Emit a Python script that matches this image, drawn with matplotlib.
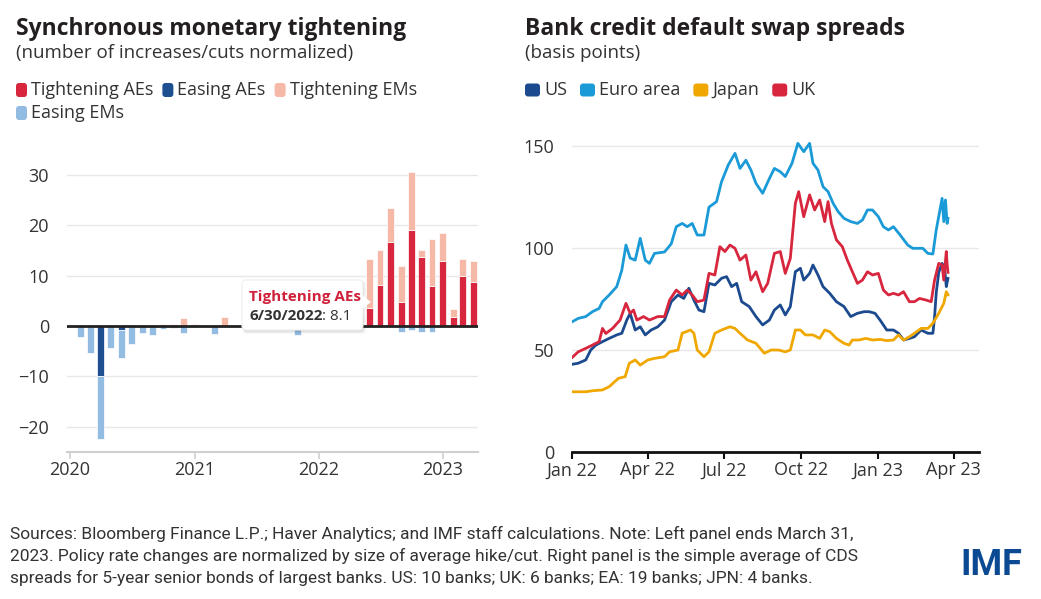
import matplotlib
matplotlib.use('Agg')
import matplotlib.pyplot as plt
from matplotlib.patches import FancyBboxPatch, Polygon
from matplotlib.transforms import IdentityTransform
import pandas as pd

plt.rcParams['font.family'] = ['Open Sans', 'DejaVu Sans']

W, H = 1041, 599

# ---- left panel data: monthly, Jan 2020 .. Mar 2023 (39 months) ----
months = pd.date_range('2020-01-31', periods=39, freq='ME')
tight_ae = [0, 0, 0, 0, 0, 0, 0, 0, 0, 0, 0, 0,
            0, 0, 0, 0, 0, 0, 0, 0, 0.5, 0.5, 0.5, 1.0,
            0.5, 2.0, 3.0, 2.0, 3.5, 8.1, 16.7, 4.8, 19.0, 13.7, 8.0, 12.9,
            1.7, 9.9, 8.7]
tight_em = [0, 0, 0, 0, 0, 0, 0, 0, 0.4, 0.3, 1.6, 0.3,
            0, 0, 1.7, 0, 1.5, 3.0, 4.0, 3.5, 5.0, 4.0, 5.0, 5.5,
            3.0, 4.0, 5.0, 5.5, 9.9, 7.1, 6.8, 7.1, 11.7, 1.5, 9.2, 5.6,
            1.6, 3.5, 4.2]
ease_ae = [0, 0, -9.9, 0, -0.8, 0, 0, 0, 0, 0, 0, 0,
           0, 0, 0, 0, 0, 0, 0, 0, 0, 0, 0, 0,
           0, 0, 0, 0, 0, 0, 0, 0, 0, 0, 0, 0,
           0, 0, 0]
ease_em = [-2.2, -5.4, -12.6, -4.4, -5.6, -3.6, -1.4, -1.8, -0.7, -0.4, -1.4, 0,
           0, -1.6, 0, 0, -0.3, -0.3, -0.2, -0.3, -0.3, -1.8, -0.2, -0.2,
           -0.3, -0.2, 0, 0, 0, 0, 0, -1.3, -0.8, -1.3, -1.3, 0,
           0, -0.3, 0]

# ---- right panel data: days since 1 Jan 2022, basis points ----
us_days = [0, 7, 16, 22, 28, 36, 44, 53, 59, 65, 69, 75, 81, 87, 94, 102, 110, 118, 126, 133,
           139, 145, 151, 157, 163, 170, 178, 184, 190, 196, 202, 211, 219, 227, 235, 241, 248,
           254, 260, 266, 272, 276, 283, 287, 293, 299, 307, 315, 324, 332, 340, 348, 354, 361,
           367, 375, 383, 389, 395, 402, 408, 416, 424, 430, 432, 434, 437, 441, 444, 446, 448]
us_vals = [42.9, 43.4, 45.0, 49.9, 52.3, 54.0, 55.6, 57.3, 58.1, 64.6, 67.9, 59.7, 61.3, 57.3,
           59.7, 61.3, 64.6, 73.6, 76.9, 75.2, 80.2, 74.4, 69.5, 68.7, 82.6, 81.8, 85.1, 85.9,
           81.0, 82.6, 73.6, 71.2, 66.3, 62.2, 64.6, 69.5, 72.0, 67.1, 71.2, 88.3, 90.0, 84.2,
           87.5, 91.6, 86.7, 81.0, 77.7, 73.6, 71.2, 66.3, 67.9, 68.7, 68.7, 67.9, 64.6, 59.7,
           59.7, 58.1, 54.8, 55.6, 56.4, 59.7, 58.1, 58.1, 66.0, 78.0, 88.0, 92.4, 90.0, 81.0, 85.0]

ea_days = [0, 7, 16, 24, 32, 36, 44, 53, 59, 64, 69, 75, 81, 87, 92, 98, 110, 118, 124, 131,
           137, 143, 149, 157, 163, 172, 178, 186, 194, 200, 207, 213, 219, 227, 235, 241, 248,
           254, 262, 269, 276, 283, 287, 293, 299, 305, 311, 317, 324, 332, 340, 346, 352, 358,
           365, 371, 377, 383, 391, 400, 406, 412, 418, 424, 430, 434, 441, 443, 445, 447, 448]
ea_vals = [63.8, 65.4, 66.3, 68.7, 70.3, 73.6, 76.9, 81.0, 89.0, 101.4, 95.0, 94.0, 104.7, 94.0,
           92.4, 97.3, 98.0, 102.0, 110.4, 112.0, 110.4, 112.0, 106.3, 106.3, 120.0, 122.7, 132.5,
           140.7, 146.4, 139.0, 143.0, 138.2, 131.7, 126.8, 134.0, 139.0, 137.4, 135.0, 141.5,
           151.3, 147.2, 151.3, 141.5, 138.2, 130.0, 127.6, 121.9, 117.8, 114.5, 112.9, 112.0,
           113.7, 118.6, 118.6, 115.3, 110.4, 108.8, 110.4, 106.3, 101.4, 99.8, 99.8, 99.8, 97.3,
           97.0, 108.8, 124.3, 112.9, 123.5, 112.0, 114.5]

jp_days = [0, 16, 24, 36, 44, 55, 63, 68, 75, 81, 90, 98, 110, 116, 126, 131, 141, 145, 149, 157,
           163, 170, 178, 188, 194, 200, 209, 219, 229, 237, 246, 254, 260, 266, 272, 278, 287,
           295, 301, 307, 315, 324, 330, 334, 342, 350, 358, 367, 375, 383, 389, 395, 402, 408,
           416, 424, 430, 437, 443, 446, 448]
jp_vals = [29.4, 29.4, 29.9, 30.3, 31.9, 36.0, 36.8, 43.4, 45.0, 42.5, 45.0, 45.8, 46.6, 49.0,
           49.9, 58.1, 59.7, 58.1, 49.9, 46.6, 49.0, 58.1, 59.7, 61.3, 60.5, 58.1, 54.8, 53.2,
           48.3, 49.9, 49.9, 49.0, 49.9, 59.7, 59.7, 57.3, 57.3, 55.6, 59.7, 58.9, 55.6, 53.2,
           52.3, 54.8, 54.8, 55.6, 54.8, 55.1, 54.5, 54.8, 57.3, 54.8, 56.4, 58.1, 60.5, 60.5,
           63.0, 67.9, 72.8, 78.5, 77.0]

uk_days = [0, 7, 16, 24, 32, 36, 40, 48, 57, 64, 69, 73, 77, 85, 92, 102, 110, 116, 124, 131,
           137, 143, 149, 157, 163, 170, 176, 182, 188, 194, 200, 207, 213, 219, 227, 233, 241,
           248, 254, 260, 266, 270, 276, 283, 289, 295, 301, 305, 309, 315, 322, 328, 334, 340,
           346, 352, 358, 365, 371, 377, 383, 389, 395, 402, 408, 414, 422, 428, 432, 437, 441,
           443, 446, 447, 448]
uk_vals = [46.3, 49.0, 50.7, 52.3, 54.0, 60.5, 58.0, 60.5, 64.6, 72.8, 67.9, 69.5, 64.6, 66.3,
           64.6, 66.3, 66.3, 74.4, 79.3, 76.9, 79.3, 76.9, 73.6, 74.4, 87.5, 86.7, 100.6, 98.2,
           101.4, 99.8, 94.0, 96.5, 84.2, 88.3, 78.5, 82.6, 97.3, 98.2, 87.5, 94.9, 121.9, 127.6,
           115.3, 126.0, 118.6, 123.5, 112.9, 122.7, 112.0, 103.9, 100.6, 94.0, 88.3, 82.6, 84.2,
           88.3, 86.7, 87.5, 79.3, 76.9, 77.7, 76.9, 78.5, 73.6, 73.6, 75.2, 74.4, 73.6, 84.2,
           92.4, 91.6, 84.2, 98.2, 92.0, 88.0]

C_TAE, C_EAE, C_TEM, C_EEM = '#d7263d', '#1d4f91', '#f6b9a7', '#93bce3'
C_US, C_EA, C_JP, C_UK = '#1b4a8f', '#1a9ad6', '#f0a800', '#d7263d'
TXT = '#333333'
DARK = '#231f20'
NARROW = ['Roboto', 'DejaVu Sans']

fig = plt.figure(figsize=(W / 100, H / 100), dpi=100)
PX = IdentityTransform()


def ftext(x, y, s, **kw):
    # place text by pixel position measured from the top-left corner
    return fig.text(x / W, 1 - y / H, s, **kw)


def legend_row(x, y, items, size=13, mw=11, mh=14, gap=9):
    r = fig.canvas.get_renderer()
    for label, col in items:
        fig.patches.append(FancyBboxPatch((x, H - y - mh / 2), mw, mh, boxstyle='round,pad=0,rounding_size=3',
                                          transform=PX, fc=col, ec='none'))
        t = ftext(x + mw + 4, y, label, fontsize=size, color=TXT, va='center')
        x = t.get_window_extent(r).x1 + gap


# ---- titles ----
ftext(16, 35, 'Synchronous monetary tightening', fontsize=16.5, fontweight='bold', color=DARK)
ftext(16, 58, '(number of increases/cuts normalized)', fontsize=13.5, color=TXT)
ftext(525, 35, 'Bank credit default swap spreads', fontsize=16.5, fontweight='bold', color=DARK)
ftext(525, 58, '(basis points)', fontsize=13.5, color=TXT)

legend_row(16, 90, [('Tightening AEs', C_TAE), ('Easing AEs', C_EAE), ('Tightening EMs', C_TEM)])
legend_row(16, 113, [('Easing EMs', C_EEM)])
legend_row(525, 90, [('US', C_US), ('Euro area', C_EA), ('Japan', C_JP), ('UK', C_UK)],
           mw=15, mh=13, gap=13)

# ---- left panel ----
ax1 = fig.add_axes([67 / W, 1 - 451.7 / H, 411 / W, (451.7 - 165) / H])
bw = 20
ax1.bar(months, tight_ae, width=bw, color=C_TAE, edgecolor='white', linewidth=0.5, zorder=2)
ax1.bar(months, tight_em, width=bw, bottom=tight_ae, color=C_TEM, edgecolor='white', linewidth=0.5, zorder=2)
ax1.bar(months, ease_ae, width=bw, color=C_EAE, edgecolor='white', linewidth=0.5, zorder=2)
ax1.bar(months, ease_em, width=bw, bottom=ease_ae, color=C_EEM, edgecolor='white', linewidth=0.5, zorder=2)
ax1.axhline(0, color='#222222', lw=2, zorder=3)
ax1.set_xlim(pd.Timestamp('2019-12-23'), pd.Timestamp('2023-04-14'))
ax1.set_ylim(-25, 32)
ax1.set_yticks([-20, -10, 0, 10, 20, 30])
ax1.set_yticklabels(['\u221220', '\u221210', '0', '10', '20', '30'])
yrs = pd.to_datetime(['2020-01-01', '2021-01-01', '2022-01-01', '2023-01-01'])
ax1.set_xticks(yrs)
ax1.set_xticklabels(['2020', '2021', '2022', '2023'])
ax1.yaxis.grid(True, color='#e8e8e8', lw=1)
ax1.set_axisbelow(True)
for s in ['top', 'right', 'left']:
    ax1.spines[s].set_visible(False)
ax1.spines['bottom'].set_color('#cfcfcf')
ax1.spines['bottom'].set_linewidth(1.5)
ax1.tick_params(axis='x', colors='#cfcfcf', length=5, width=1.2, pad=2, labelsize=13, labelcolor=TXT)
ax1.tick_params(axis='y', length=0, pad=13, labelsize=13, labelcolor=TXT)

# tooltip drawn over the bars
for i, a in enumerate([0.05, 0.04, 0.03]):
    fig.patches.append(FancyBboxPatch((242 + 1, H - 331 - 1 - i), 121 + i, 51 + i,
                                      boxstyle='round,pad=0,rounding_size=4', transform=PX,
                                      fc='black', ec='none', alpha=a, zorder=5))
fig.patches.append(FancyBboxPatch((242, H - 330), 121, 50, boxstyle='round,pad=0,rounding_size=4',
                                  transform=PX, fc='white', ec='#eeeeee', lw=0.8, zorder=6))
fig.patches.append(Polygon([(362, H - 295), (371, H - 302), (362, H - 309)], closed=True,
                           transform=PX, fc='white', ec='none', zorder=6))
ftext(249, 301, 'Tightening AEs', fontsize=11, fontweight='bold', color='#d0213a', zorder=7)
r = fig.canvas.get_renderer()
t = ftext(249, 320, '6/30/2022', fontsize=11, fontweight='bold', color=TXT, zorder=7)
ftext(t.get_window_extent(r).x1, 320, ': 8.1', fontsize=11, color=TXT, zorder=7)

# ---- right panel ----
ax2 = fig.add_axes([572.3 / W, 1 - 451.7 / H, 406.7 / W, (451.7 - 135.8) / H])
base = pd.Timestamp('2022-01-01')
for days, vals, col in [(us_days, us_vals, C_US), (ea_days, ea_vals, C_EA),
                        (jp_days, jp_vals, C_JP), (uk_days, uk_vals, C_UK)]:
    ax2.plot(base + pd.to_timedelta(days, unit='D'), vals, color=col, lw=2.0, zorder=3,
             solid_joinstyle='round')
ax2.set_xlim(base, base + pd.Timedelta(days=485))
ax2.set_ylim(0, 155)
ax2.set_yticks([0, 50, 100, 150])
qs = pd.to_datetime(['2022-01-01', '2022-04-01', '2022-07-01', '2022-10-01', '2023-01-01', '2023-04-01'])
ax2.set_xticks(qs)
ax2.set_xticklabels(['Jan 22', 'Apr 22', 'Jul 22', 'Oct 22', 'Jan 23', 'Apr 23'])
ax2.yaxis.grid(True, color='#e8e8e8', lw=1)
ax2.set_axisbelow(True)
for s in ['top', 'right', 'left']:
    ax2.spines[s].set_visible(False)
ax2.spines['bottom'].set_color('#111111')
ax2.spines['bottom'].set_linewidth(2)
ax2.tick_params(axis='x', colors='#111111', length=5, width=1.5, pad=2, labelsize=13, labelcolor=TXT)
ax2.tick_params(axis='y', length=0, pad=13, labelsize=13, labelcolor=TXT)

# ---- footnote and logo ----
notes = ['Sources: Bloomberg Finance L.P.; Haver Analytics; and IMF staff calculations. Note: Left panel ends March 31,',
         '2023. Policy rate changes are normalized by size of average hike/cut. Right panel is the simple average of CDS',
         'spreads for 5-year senior bonds of largest banks. US: 10 banks; UK: 6 banks; EA: 19 banks; JPN: 4 banks.']
for i, line in enumerate(notes):
    ftext(10, 539 + 22 * i, line, fontsize=12.5, color=TXT, family=NARROW)
ftext(960, 575, 'IMF', fontsize=26, fontweight='bold', color='#0b4a92', family=NARROW)

fig.savefig('out.png', dpi=100)
